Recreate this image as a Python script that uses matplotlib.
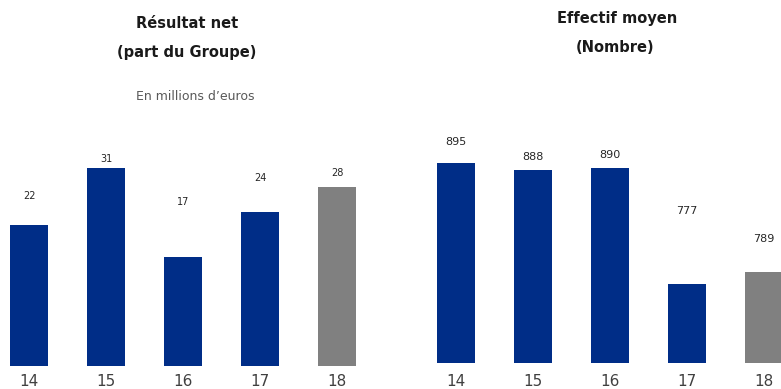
import matplotlib
matplotlib.use('Agg')
import matplotlib.pyplot as plt

W, H = 781, 389

# ── Data ──────────────────────────────────────────
years = ['14', '15', '16', '17', '18']
resultat_net = [22, 31, 17, 24, 28]
effectif_moyen = [895, 888, 890, 777, 789]

BLUE = '#002d87'
GREY = '#808080'
bar_colors = [BLUE, BLUE, BLUE, BLUE, GREY]

# label offsets above bar tops (pixels), as laid out in the original slide
res_label_off = [29, 9, 55, 34, 14]
eff_label_off = [21, 13, 13, 73, 33]


def px_axes(fig, left, bottom, right, top):
    # pixel coordinates measured from top-left
    return fig.add_axes([left / W, (H - bottom) / H, (right - left) / W, (bottom - top) / H])


def draw_panel(ax, values, offsets, xlim, ylim, pad, label_size):
    x = range(len(values))
    ax.bar(x, values, width=0.5, color=bar_colors, linewidth=0)
    for i, (v, off) in enumerate(zip(values, offsets)):
        ax.annotate(str(v), (i, v), xytext=(0, off), textcoords='offset pixels',
                    ha='center', va='center', fontsize=label_size, color='#262626')
    ax.set_xlim(*xlim)
    ax.set_ylim(*ylim)
    ax.set_xticks(list(x))
    ax.set_xticklabels(years, fontsize=11, color='#404040')
    ax.tick_params(axis='x', length=0, pad=pad)
    ax.set_yticks([])
    for s in ax.spines.values():
        s.set_visible(False)
    ax.patch.set_alpha(0)


fig = plt.figure(figsize=(W / 100, H / 100), dpi=100)

# left panel: 14 centred at x=29 px, 77 px per category, baseline y=366
ax1 = px_axes(fig, 0, 366, 390, 130)
draw_panel(ax1, resultat_net, res_label_off,
           (-29 / 77, (390 - 29) / 77), (0, 236 / 6.4), 6, 7)

# right panel: 14 centred at x=456 px, baseline y=363, axis starts at 700
ax2 = px_axes(fig, 390, 363, 781, 130)
draw_panel(ax2, effectif_moyen, eff_label_off,
           (-(456 - 390) / 77, (781 - 456) / 77), (700, 700 + 233 / 1.025), 8, 8)

title_kw = dict(ha='center', va='center', fontsize=10.5, fontweight='bold', color='#1a1a1a')
fig.text(187 / W, 1 - 24 / H, 'Résultat net', **title_kw)
fig.text(187 / W, 1 - 52 / H, '(part du Groupe)', **title_kw)
fig.text(195 / W, 1 - 97 / H, 'En millions d\u2019euros', ha='center', va='center',
         fontsize=9, color='#595959')
fig.text(617 / W, 1 - 19 / H, 'Effectif moyen', **title_kw)
fig.text(615 / W, 1 - 47 / H, '(Nombre)', **title_kw)

fig.savefig('out.png', dpi=100)
